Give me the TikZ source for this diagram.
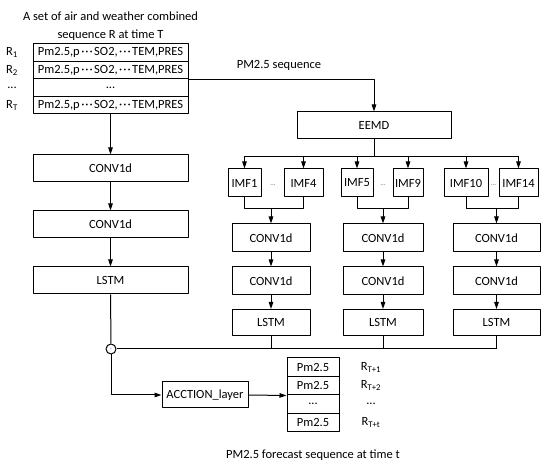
\documentclass[tikz,border=0pt]{standalone}
\usepackage{fontspec}
\setmainfont{Carlito}
\usetikzlibrary{arrows.meta,calc}
\newcommand{\mdots}{\kern1.5pt·\kern1pt·\kern1pt·\kern1.5pt}

\tikzset{
  blk/.style={draw,line width=1pt,inner sep=0pt,minimum height=27pt},
  conn/.style={line width=1pt},
  arr/.style={conn,-{Triangle[length=7pt,width=4.5pt]}},
  dots/.style={font=\fontsize{7}{8}\selectfont,text=black!60},
}

\begin{document}
\begin{tikzpicture}[x=1pt,y=-1pt,line join=round,font=\fontsize{12.5}{18}\selectfont]
  \useasboundingbox (0,0) rectangle (550,468);
  % input sequence table
  \node[align=center] (title) at (110.5,26) {A set of air and weather combined\\sequence R at time T};
  \foreach \n/\y/\t in {r1/52.75/{Pm2.5,p\mdots SO2,\mdots TEM,PRES},r2/70.25/{Pm2.5,p\mdots SO2,\mdots TEM,PRES},
                        rd/87.75/{...},rT/105.25/{Pm2.5,p\mdots SO2,\mdots TEM,PRES}}
    \node[blk,minimum width=155pt,minimum height=17.5pt] (\n) at (110.5,\y) {\t};
  \node (lr1) at (12,52.75) {R\textsubscript{1}};
  \node (lr2) at (12,70.25) {R\textsubscript{2}};
  \node (lrd) at (12,87.75) {...};
  \node (lrT) at (12,105.25) {R\textsubscript{T}};

  % left branch
  \node[blk,minimum width=155pt] (ca) at (110.5,168.5) {CONV1d};
  \node[blk,minimum width=155pt] (cb) at (110.5,224.5) {CONV1d};
  \node[blk,minimum width=155pt] (ls) at (110.5,280.5) {LSTM};
  \draw[arr] (rT.south) -- (ca.north);
  \draw[arr] (ca.south) -- (cb.north);
  \draw[arr] (cb.south) -- (ls.north);

  % decomposition
  \node[blk,minimum width=154pt] (eemd) at (374,125.5) {EEMD};
  \draw[arr] (r2.south east) -| (eemd.north);
  \node (pmseq) at (279,65) {PM2.5 sequence};
  \foreach \n/\x/\w/\t in {imf1/244.5/33/IMF1,imf4/303.5/39/IMF4,imf5/357/32/IMF5,
                           imf9/408/30/IMF9,imf10/466/44/IMF10,imf14/518.5/39/IMF14}
    \node[blk,minimum width=\w pt,minimum height=28pt] (\n) at (\x,183) {\t};
  \node[dots] (d1) at (273,185) {...};
  \node[dots] (d2) at (383,185) {...};
  \node[dots] (d3) at (493.5,185) {...};
  \draw[conn] (eemd.south) -- ++(0,17) coordinate (bus);
  \draw[conn] (imf1.north |- bus) -- (imf14.north |- bus);
  \foreach \n in {imf1,imf4,imf5,imf9,imf10,imf14}
    \draw[arr] (\n.north |- bus) -- (\n.north);

  % three sub-branches
  \foreach \k/\x/\w in {1/271/78,2/383/80,3/496.5/87}{
    \node[blk,minimum width=\w pt,minimum height=28pt] (c\k a) at (\x,238) {CONV1d};
    \node[blk,minimum width=\w pt,minimum height=28pt] (c\k b) at (\x,281) {CONV1d};
    \node[blk,minimum width=\w pt,minimum height=26pt] (l\k) at (\x,322.5) {LSTM};
    \draw[arr] (c\k a.south) -- (c\k b.north);
    \draw[arr] (c\k b.south) -- (l\k.north);
  }
  \foreach \a/\b/\k in {imf1/imf4/1,imf5/imf9/2,imf10/imf14/3}{
    \draw[conn] (\a.south) -- ++(0,11) coordinate (j\k) -| (\b.south);
    \draw[arr] (c\k a.north |- j\k) -- (c\k a.north);
  }

  % merge
  \node[draw,circle,line width=1pt,minimum size=10pt,inner sep=0pt,
        font=\fontsize{5}{5}\selectfont,text=blue!40] (sum) at (111,349) {+};
  \draw[conn] (ls.south) -- (sum.north);
  \draw[conn] (sum.east) -- (l3.south |- sum.east);
  \foreach \k in {1,2,3}
    \draw[conn] (l\k.south) -- (l\k.south |- sum.east);

  % output
  \node[blk,minimum width=52pt,minimum height=18.5pt] (o1) at (313,367.25) {Pm2.5};
  \node[blk,minimum width=52pt,minimum height=18.5pt] (o2) at (313,385.75) {Pm2.5};
  \node[blk,minimum width=52pt,minimum height=18.5pt] (od) at (313,404.25) {...};
  \node[blk,minimum width=52pt,minimum height=18.5pt] (ot) at (313,422.75) {Pm2.5};
  \node[blk,minimum width=86pt,minimum height=26pt] (act) at (205,395) {ACCTION\_layer};
  \draw[arr] (sum.south) |- (act.west);
  \draw[arr] (act.east) -- (o2.south west);
  \node (lo1) at (371,367.25) {R\textsubscript{T+1}};
  \node (lo2) at (371,385.75) {R\textsubscript{T+2}};
  \node (lod) at (371,404.25) {...};
  \node (lot) at (371,422.75) {R\textsubscript{T+t}};
  \node (caption) at (313,455) {PM2.5 forecast sequence at time t};
\end{tikzpicture}
\end{document}
